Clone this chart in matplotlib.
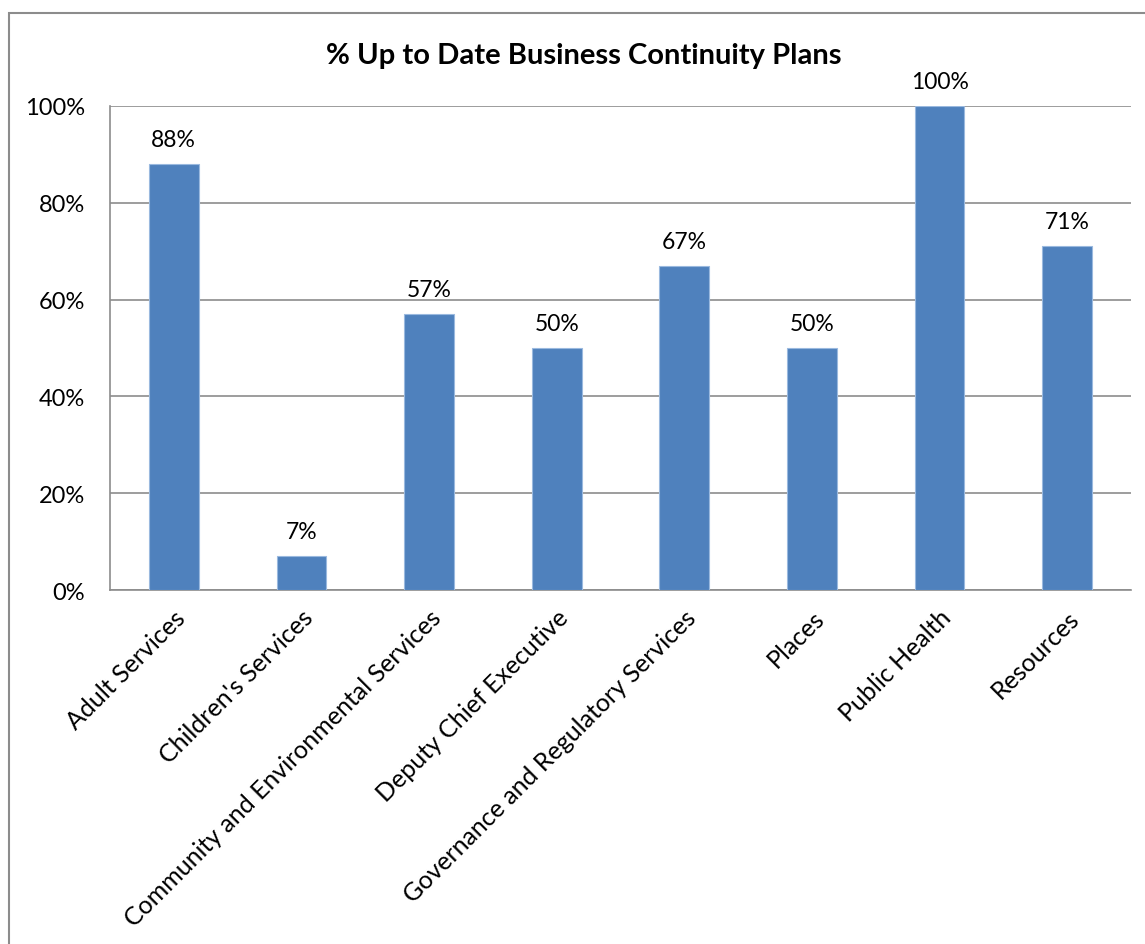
import matplotlib
matplotlib.use("Agg")
import matplotlib.pyplot as plt
from matplotlib.patches import Rectangle
from matplotlib.ticker import PercentFormatter

# data
categories = ["Adult Services", "Children's Services", "Community and Environmental Services",
              "Deputy Chief Executive", "Governance and Regulatory Services", "Places",
              "Public Health", "Resources"]
values = [88, 7, 57, 50, 67, 50, 100, 71]
yticks = [0, 20, 40, 60, 80, 100]

plt.rcParams['font.family'] = ['Lato', 'DejaVu Sans']

fig = plt.figure(figsize=(11.45, 9.45), dpi=100)
ax = fig.add_axes([110 / 1145, 1 - 591 / 945, (1131 - 110) / 1145, (591 - 107) / 945])

# outer chart border (runs off the right and bottom edges)
fig.patches.append(Rectangle((9 / 1145, -0.01), 1.2, 1 - 14 / 945 + 0.01,
                             transform=fig.transFigure, fill=False,
                             edgecolor='#8c8c8c', linewidth=1.5))

bars = ax.bar(range(len(values)), values, width=0.39, color='#4F81BD',
              edgecolor='#9ab9df', linewidth=0.8, zorder=3)
ax.bar_label(bars, labels=[f"{v}%" for v in values], padding=10, fontsize=16.5)

ax.set_xlim(-0.5, len(values) - 0.5)
ax.set_ylim(0, 100)
ax.set_yticks(yticks)
ax.yaxis.set_major_formatter(PercentFormatter(decimals=0))
ax.grid(axis='y', color='#8c8c8c', linewidth=1.2, zorder=0)
ax.tick_params(axis='y', length=0, labelsize=17, pad=18)
ax.tick_params(axis='x', length=0, labelsize=18, pad=11)

ax.set_xticks(range(len(categories)))
ax.set_xticklabels(categories, rotation=45, ha='right', rotation_mode='anchor')

for side in ['top', 'right']:
    ax.spines[side].set_visible(False)
for side in ['left', 'bottom']:
    ax.spines[side].set_color('#8c8c8c')
    ax.spines[side].set_linewidth(1.2)

fig.text(584 / 1145, 1 - 56 / 945, "% Up to Date Business Continuity Plans",
         ha='center', va='center', fontsize=21, fontweight='bold')

fig.savefig("out.png", dpi=100)
